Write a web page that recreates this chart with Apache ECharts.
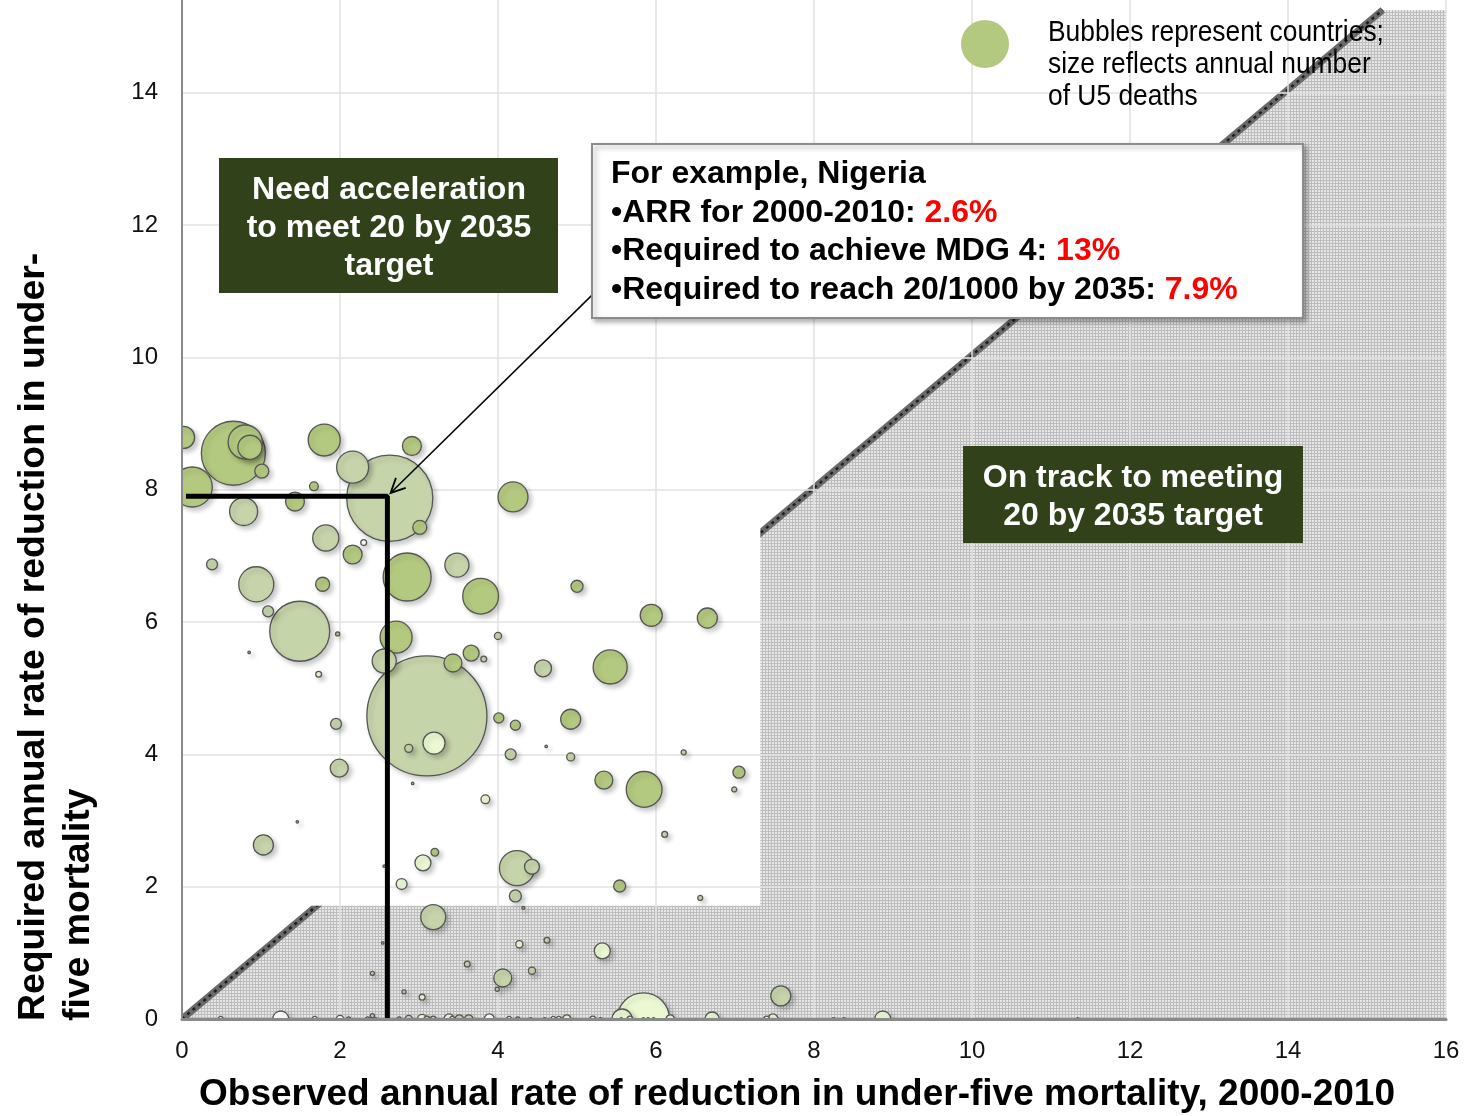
<!DOCTYPE html>
<html><head><meta charset="utf-8">
<script src="https://cdn.jsdelivr.net/npm/echarts@6/dist/echarts.min.js"></script>
<style>html,body{margin:0;padding:0;background:#fff}#c{width:1465px;height:1116px}</style>
</head><body><div id="c"></div>
<script>
// ---- Data (x = observed ARR 2000-2010, y = required ARR, d = annual U5 deaths, thousands) ----
const mediumBubbles = [
  [0.02,8.79,57],[0.65,8.55,480],[0.80,8.72,136],[0.86,8.64,68],[1.01,8.28,23],
  [1.80,8.75,120],[0.13,8.04,188],[1.67,8.05,9],[1.43,7.82,42],[2.16,7.02,42],
  [1.78,6.57,23],[2.91,8.66,42],[3.01,7.43,23],[4.19,7.89,105],[2.85,6.68,270],
  [3.78,6.39,150],[1.97,5.82,2],[0.85,5.54,0.6],[2.71,5.77,120],[3.43,5.38,38],
  [3.66,5.53,30],[5.42,5.32,136],[4.01,4.55,12],[4.22,4.44,12],[4.92,4.53,47],
  [4.61,4.12,0.6],[5.34,3.61,38],[5.85,3.47,150],[7.05,3.73,17],[2.92,3.56,0.5],
  [3.20,2.52,7],[2.56,2.31,0.5],[5.54,2.01,17],[1.46,2.98,0.5],[4.32,1.68,1],
  [2.54,1.15,0.5],[5.00,6.54,17],[5.94,6.10,57],[6.65,6.06,47]
];
const paleBubbles = [
  [0.78,7.67,92],[2.16,8.34,120],[2.63,7.87,870],[1.82,7.27,80],[0.38,6.87,14],
  [0.94,6.57,144],[1.09,6.16,14],[1.49,5.86,422],[3.48,6.86,68],[2.56,5.41,68],
  [3.82,5.44,4],[4.00,5.79,6],[4.57,5.30,34],[3.10,4.58,1690],[2.87,4.09,7.5],
  [4.16,4.00,14],[4.92,3.96,7.5],[6.35,4.03,3],[6.99,3.47,3],[6.11,2.79,4],
  [4.24,2.28,144],[4.43,2.30,26],[4.22,1.86,17],[6.56,1.83,3],[1.95,4.46,14],
  [1.99,3.79,38],[1.03,2.63,47],[3.18,1.54,73],[2.41,0.69,2],[4.62,1.19,4],
  [3.61,0.83,4],[4.06,0.62,38],[4.43,0.73,6],[3.99,0.45,2],[2.81,0.41,2],
  [2.41,0.05,2],[7.58,0.35,47],
  [2.11,0,2],[2.35,0,2],[2.45,0,1],[2.75,0,2],[2.87,0,6],[3.10,0,4],[3.18,0,4],
  [3.51,0,8],[3.63,0,8],[4.25,0,2],[4.41,0,1],[4.59,0,1],[5.30,0,1],[5.56,0,0.6],
  [5.84,0,0.6],[5.90,0,0.6],[5.97,0,0.6],[8.25,0,1],[8.38,0,1],[11.34,0,0.6]
];
const veryPaleBubbles = [
  [1.73,5.21,4],[3.19,4.17,57],[3.84,3.32,9],[3.05,2.36,30],[2.78,2.04,14],
  [4.27,1.13,6],[5.32,1.03,30],[3.04,0.33,4],
  [3.04,0,10],[3.38,0,12],[4.87,0,8],[5.84,0,320],[5.57,0,47],[5.67,0,4],
  [6.18,0,8],[6.71,0,23],[7.40,0,4],[7.48,0,12],[8.87,0,30],[5.20,0,4]
];
const whiteBubbles = [
  [2.30,7.20,4],
  [0.49,0,3],[1.25,0,30],[1.68,0,3],[2.00,0,6],[3.42,0,3],[3.89,0,12],
  [4.14,0,3],[4.70,0,3],[4.77,0,3]
];
// Nigeria example
const nigeriaARR = 2.6;        // observed 2000-2010
const nigeriaMDG = 13;         // required for MDG 4
const nigeriaReq2035 = 7.9;    // required to reach 20/1000 by 2035
const nigeriaGuide = [[0.05, nigeriaReq2035], [nigeriaARR, nigeriaReq2035], [nigeriaARR, 0]];
const calloutArrow = [[5.19, 10.94], [2.64, 7.95]];
// shaded "on track" region (below the y = x line) and the inset panel
const onTrackRegion = [[0,0],[15.2,15.25],[16,15.25],[16,0]];
const targetLine = [[0,0],[15.2,15.25]];
const insetPanel = [[0,1.71],[7.32,9.22]];
// axes
const xMin = 0, xMax = 16, yMin = 0, yMax = 15.4, tickStep = 2;

const FONT = "'Liberation Sans', Arial, sans-serif";

// pattern for shaded area
const pc = document.createElement('canvas');
pc.width = 3; pc.height = 3;
const pctx = pc.getContext('2d');
pctx.fillStyle = '#e6e6e6'; pctx.fillRect(0,0,3,3);
pctx.fillStyle = '#bdbdbd'; pctx.fillRect(0,0,3,1); pctx.fillRect(0,0,1,3);

const groups = [
  {list: mediumBubbles, color: '#b3c97f'},
  {list: paleBubbles, color: '#c6d4aa'},
  {list: veryPaleBubbles, color: '#eaf9d2'},
  {list: whiteBubbles, color: '#ffffff'}
];
const bubbleData = [];
groups.forEach(g => g.list.forEach(b => bubbleData.push({value: b, itemStyle: {color: g.color}})));
bubbleData.sort((a, b) => b.value[2] - a.value[2]);

const chart = echarts.init(document.getElementById('c'), null, {renderer: 'canvas'});

const axisCommon = {type: 'value', min: xMin, max: xMax, interval: tickStep};
const option = {
  animation: false,
  backgroundColor: '#ffffff',
  grid: {left: 182, right: 19, top: 0, bottom: 97, containLabel: false},
  xAxis: [
    Object.assign({}, axisCommon, {
      position: 'bottom', z: 60,
      axisLine: {show: true, onZero: false, lineStyle: {color: '#8a8a8a', width: 3}},
      axisTick: {show: false},
      splitLine: {show: false},
      axisLabel: {fontSize: 24, color: '#111', margin: 20, fontFamily: FONT}
    }),
    Object.assign({}, axisCommon, {
      position: 'top', z: 0,
      axisLine: {show: false}, axisTick: {show: false}, axisLabel: {show: false},
      splitLine: {show: true, lineStyle: {color: '#e2e2e2', width: 1.5}}
    })
  ],
  yAxis: [
    {type: 'value', min: yMin, max: yMax, interval: tickStep, position: 'left', z: 60,
      axisLine: {show: true, onZero: false, lineStyle: {color: '#8a8a8a', width: 2}},
      axisTick: {show: false}, splitLine: {show: false},
      axisLabel: {fontSize: 24, color: '#111', margin: 24, fontFamily: FONT, showMaxLabel: false,
        formatter: v => (Math.abs(v % tickStep) < 1e-9 ? String(v) : '')}
    },
    {type: 'value', min: yMin, max: yMax, interval: tickStep, position: 'right', z: 0,
      axisLine: {show: false}, axisTick: {show: false}, axisLabel: {show: false},
      splitLine: {show: true, showMaxLine: false, lineStyle: {color: '#e2e2e2', width: 1.5}}
    }
  ],
  series: [
    {
      type: 'custom', z: -1, silent: true, xAxisIndex: 0, yAxisIndex: 0,
      data: [[0, 0]],
      renderItem: function (params, api) {
        const poly = onTrackRegion.map(p => api.coord(p));
        const d0 = api.coord(targetLine[0]), d1 = api.coord(targetLine[1]);
        const p0 = api.coord([insetPanel[0][0], insetPanel[1][1]]);
        const p1 = api.coord([insetPanel[1][0], insetPanel[0][1]]);
        return {type: 'group', children: [
          {type: 'polygon', shape: {points: poly}, style: {fill: {image: pc, repeat: 'repeat'}}},
          {type: 'line', shape: {x1: d0[0], y1: d0[1], x2: d1[0], y2: d1[1]},
            style: {stroke: '#6a6a6a', lineWidth: 7}},
          {type: 'line', shape: {x1: d0[0], y1: d0[1], x2: d1[0], y2: d1[1]},
            style: {stroke: '#1e1e1e', lineWidth: 2.5, lineDash: [3, 4]}},
          {type: 'rect', shape: {x: p0[0] - 2, y: p0[1], width: p1[0] - p0[0] + 2, height: p1[1] - p0[1]},
            style: {fill: '#ffffff'}}
        ]};
      }
    },
    {
      type: 'scatter', z: 3, silent: true,
      data: bubbleData,
      symbolSize: v => Math.max(2.5, 2.92 * Math.sqrt(v[2])),
      itemStyle: {borderColor: '#555', borderWidth: 1.3, opacity: 1,
        shadowBlur: 5, shadowOffsetX: 3, shadowOffsetY: 3, shadowColor: 'rgba(0,0,0,0.22)'}
    },
    {
      type: 'line', z: 5, silent: true, data: nigeriaGuide, showSymbol: false, symbol: 'none',
      lineStyle: {color: '#000', width: 5}
    },
    {
      type: 'custom', z: 6, silent: true, data: [[0, 0]],
      renderItem: function (params, api) {
        const a = api.coord(calloutArrow[0]), b = api.coord(calloutArrow[1]);
        const ang = Math.atan2(a[1] - b[1], a[0] - b[0]);
        const L = 16, w = 0.45;
        const h1 = [b[0] + L * Math.cos(ang + w), b[1] + L * Math.sin(ang + w)];
        const h2 = [b[0] + L * Math.cos(ang - w), b[1] + L * Math.sin(ang - w)];
        return {type: 'group', children: [
          {type: 'line', shape: {x1: a[0], y1: a[1], x2: b[0], y2: b[1]}, style: {stroke: '#000', lineWidth: 1.5}},
          {type: 'polyline', shape: {points: [h1, b, h2]}, style: {stroke: '#000', lineWidth: 1.8, fill: null}}
        ]};
      }
    }
  ],
  graphic: [
    // white covers outside plot so bubbles are clipped at the axes
    {type: 'rect', z: 50, silent: true, shape: {x: 0, y: 1020.5, width: 1465, height: 96}, style: {fill: '#fff'}},
    {type: 'rect', z: 50, silent: true, shape: {x: 0, y: 0, width: 181, height: 1021}, style: {fill: '#fff'}},
    // axis titles
    {type: 'text', z: 70, x: 797, y: 1095, style: {text: 'Observed annual rate of reduction in under-five mortality, 2000-2010',
      font: 'bold 37px ' + FONT, fill: '#000', align: 'center', verticalAlign: 'middle'}},
    {type: 'text', z: 70, x: 11, y: 1021, rotation: Math.PI / 2, scaleX: 1.01, style: {text: 'Required annual rate of reduction in under-\nfive mortality',
      font: 'bold 37px ' + FONT, fill: '#000', align: 'left', verticalAlign: 'top', lineHeight: 45}},
    // legend
    {type: 'circle', z: 70, shape: {cx: 985, cy: 44, r: 24}, style: {fill: '#b3c97f'}},
    {type: 'text', z: 70, x: 1048, y: 33, scaleX: 0.91, style: {text: 'Bubbles represent countries;', font: '29px ' + FONT, fill: '#000', align: 'left', verticalAlign: 'middle'}},
    {type: 'text', z: 70, x: 1048, y: 65, scaleX: 0.91, style: {text: 'size reflects annual number', font: '29px ' + FONT, fill: '#000', align: 'left', verticalAlign: 'middle'}},
    {type: 'text', z: 70, x: 1048, y: 97, scaleX: 0.91, style: {text: 'of U5 deaths', font: '29px ' + FONT, fill: '#000', align: 'left', verticalAlign: 'middle'}},
    // Need acceleration box
    {type: 'rect', z: 70, shape: {x: 219, y: 158, width: 339, height: 135}, style: {fill: '#31421a'}},
    {type: 'text', z: 71, x: 389, y: 228, style: {text: 'Need acceleration\nto meet 20 by 2035\ntarget', font: 'bold 32px ' + FONT,
      fill: '#fff', align: 'center', verticalAlign: 'middle', lineHeight: 38}},
    // On track box
    {type: 'rect', z: 70, shape: {x: 963, y: 446, width: 340, height: 97}, style: {fill: '#31421a'}},
    {type: 'text', z: 71, x: 1133, y: 497, style: {text: 'On track to meeting\n20 by 2035 target', font: 'bold 32px ' + FONT,
      fill: '#fff', align: 'center', verticalAlign: 'middle', lineHeight: 38}},
    // Nigeria callout box
    {type: 'rect', z: 70, shape: {x: 592, y: 144, width: 711, height: 174},
      style: {fill: '#fff', stroke: '#8c8c8c', lineWidth: 2, shadowBlur: 5, shadowOffsetX: 3, shadowOffsetY: 3, shadowColor: 'rgba(0,0,0,0.3)'}},
    {type: 'text', z: 71, x: 611, y: 174, style: {text: 'For example, Nigeria', font: 'bold 32px ' + FONT, fill: '#000', align: 'left', verticalAlign: 'middle'}},
    {type: 'text', z: 71, x: 611, y: 213, style: {text: '{k|•ARR for 2000-2010: }{r|' + nigeriaARR + '%}', align: 'left', verticalAlign: 'middle',
      rich: {k: {font: 'bold 32px ' + FONT, fill: '#000'}, r: {font: 'bold 32px ' + FONT, fill: '#ff0000'}}}},
    {type: 'text', z: 71, x: 611, y: 251, style: {text: '{k|•Required to achieve MDG 4: }{r|' + nigeriaMDG + '%}', align: 'left', verticalAlign: 'middle',
      rich: {k: {font: 'bold 32px ' + FONT, fill: '#000'}, r: {font: 'bold 32px ' + FONT, fill: '#ff0000'}}}},
    {type: 'text', z: 71, x: 611, y: 290, style: {text: '{k|•Required to reach 20/1000 by 2035: }{r|' + nigeriaReq2035 + '%}', align: 'left', verticalAlign: 'middle',
      rich: {k: {font: 'bold 32px ' + FONT, fill: '#000'}, r: {font: 'bold 32px ' + FONT, fill: '#ff0000'}}}}
  ]
};
chart.setOption(option);
</script>
</body></html>
